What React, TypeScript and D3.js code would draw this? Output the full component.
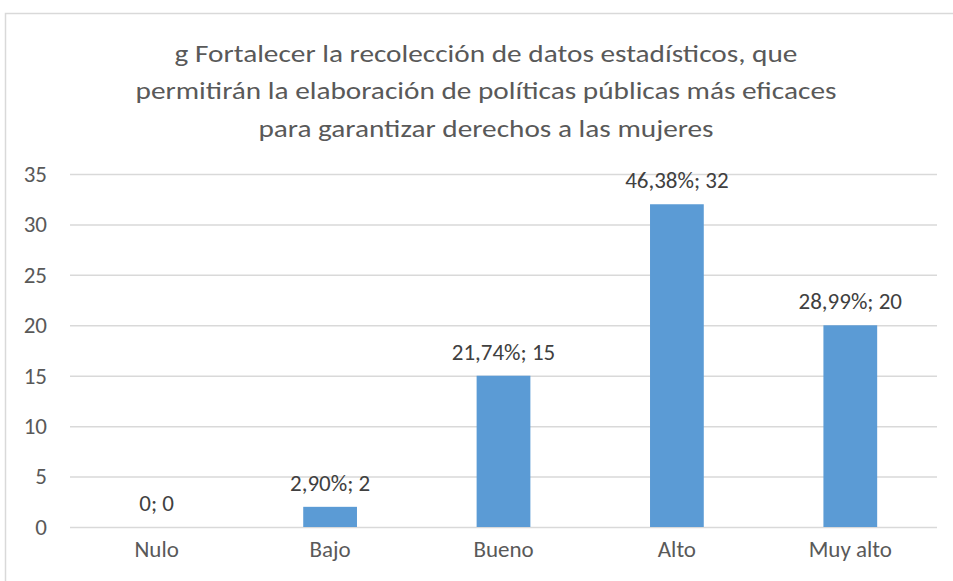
import React, { useEffect, useRef } from 'react';
import * as d3 from 'd3';

const categories = ['Nulo', 'Bajo', 'Bueno', 'Alto', 'Muy alto'];
const counts = [0, 2, 15, 32, 20];
const labels = ['0; 0', '2,90%; 2', '21,74%; 15', '46,38%; 32', '28,99%; 20'];
const yTicks = [0, 5, 10, 15, 20, 25, 30, 35];
const titleLines = [
  'g Fortalecer la recolección de datos estadísticos, que',
  'permitirán la elaboración de políticas públicas más eficaces',
  'para garantizar derechos a las mujeres',
];

const FONT = "Carlito, Calibri, Lato, sans-serif";
const TEXT = '#595959';

const App = () => {
  const svgRef = useRef<SVGSVGElement>(null);

  useEffect(() => {
    const svg = d3.select(svgRef.current);
    svg.selectAll('*').remove();
    const width = 953;
    const height = 581;
    const margin = { top: 174, right: 16, bottom: 54, left: 70 };
    const innerWidth = width - margin.left - margin.right;
    const innerHeight = height - margin.top - margin.bottom;

    // chart frame (runs off the bottom/right like the source)
    svg.append('rect')
      .attr('x', 5.5).attr('y', 13.5)
      .attr('width', 960).attr('height', 600)
      .attr('fill', 'white')
      .attr('stroke', '#d9d9d9')
      .attr('stroke-width', 1.5);

    // title is a bit wider than its height suggests, so stretch it sideways
    svg.append('g')
      .attr('transform', 'translate(486,0) scale(1.22,1)')
      .selectAll('text')
      .data(titleLines)
      .enter().append('text')
      .attr('x', 0)
      .attr('y', (d, i) => 62 + i * 37.5)
      .attr('text-anchor', 'middle')
      .attr('font-family', FONT)
      .attr('font-size', 24)
      .attr('fill', TEXT)
      .text(d => d);

    const x = d3.scaleBand()
      .domain(categories)
      .range([0, innerWidth])
      .paddingInner(0.69)
      .paddingOuter(0.345);

    const y = d3.scaleLinear()
      .domain([0, 35])
      .range([innerHeight, 0]);

    const g = svg.append('g')
      .attr('transform', `translate(${margin.left},${margin.top})`);

    const yAxis = d3.axisLeft(y)
      .tickValues(yTicks)
      .tickSize(-innerWidth)
      .tickPadding(23)
      .tickFormat(d3.format('.0f'));

    const ya = g.append('g').call(yAxis);
    ya.select('.domain').remove();
    ya.selectAll('line').attr('stroke', '#d9d9d9').attr('stroke-width', 1.5);
    ya.selectAll('text')
      .attr('font-family', FONT)
      .attr('font-size', 23)
      .attr('fill', TEXT);

    g.selectAll('.bar')
      .data(counts)
      .enter().append('rect')
      .attr('class', 'bar')
      .attr('x', (d, i) => x(categories[i]) as number)
      .attr('y', d => y(d))
      .attr('width', x.bandwidth())
      .attr('height', d => innerHeight - y(d))
      .attr('fill', '#5b9bd5');

    g.selectAll('.lbl')
      .data(counts)
      .enter().append('text')
      .attr('class', 'lbl')
      .attr('x', (d, i) => (x(categories[i]) as number) + x.bandwidth() / 2)
      .attr('y', d => y(d) - 16)
      .attr('text-anchor', 'middle')
      .attr('font-family', FONT)
      .attr('font-size', 23)
      .attr('fill', '#404040')
      .text((d, i) => labels[i]);

    const xa = g.append('g')
      .attr('transform', `translate(0,${innerHeight})`)
      .call(d3.axisBottom(x).tickSize(0).tickPadding(14));
    xa.select('.domain').remove();
    xa.selectAll('text')
      .attr('font-family', FONT)
      .attr('font-size', 23)
      .attr('fill', TEXT);
  }, []);

  return (
    <svg width={953} height={581} ref={svgRef} style={{ position: 'absolute', left: 0, top: 0 }}></svg>
  );
};

export default App;
